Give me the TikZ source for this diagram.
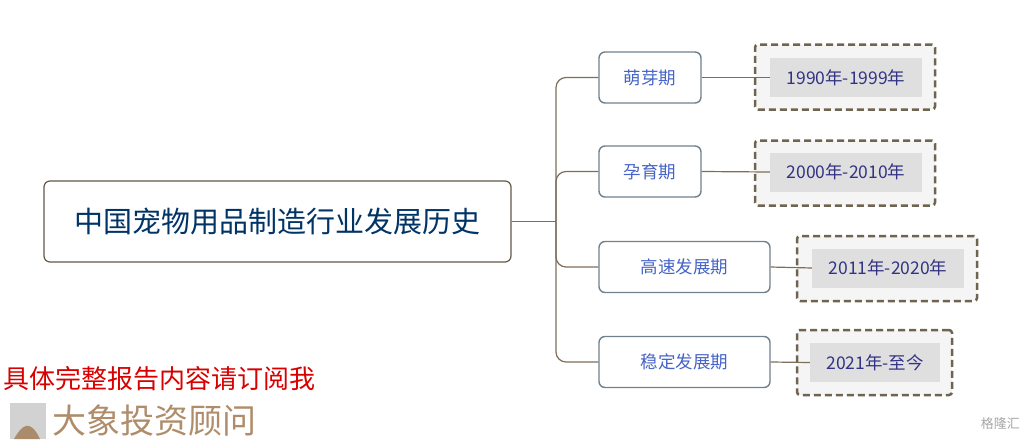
\documentclass[tikz,border=0pt]{standalone}
\usepackage{fontspec}
\setmainfont{Noto Sans CJK SC}
\definecolor{pb}{RGB}{112,128,140}
\definecolor{pt}{RGB}{70,100,200}
\definecolor{ln}{RGB}{125,110,90}
\definecolor{db}{RGB}{110,100,80}
\begin{document}
\begin{tikzpicture}[x=1pt,y=-1pt,
  line/.style={draw=ln,line width=1.2pt},
  period/.style={draw=pb,line width=1.4pt,rounded corners=6pt,fill=white,text=pt,font=\fontsize{17.5}{17.5}\selectfont,minimum height=51pt,inner sep=0pt},
  datebox/.style={draw=db,line width=2.5pt,dash pattern=on 7pt off 4pt,rounded corners=3pt,fill=gray!8,minimum height=65pt,inner sep=0pt},
  datein/.style={fill=gray!25,text=blue!40!black!80,font=\fontsize{17.5}{17.5}\selectfont,minimum height=39pt,inner sep=0pt}]
\useasboundingbox (0,0) rectangle (1024,439);
\node[draw=ln!80!black,line width=1.2pt,rounded corners=6pt,minimum width=467pt,minimum height=81pt,text=blue!50!cyan!40!black,font=\fontsize{29}{29}\selectfont] (main) at (277.5,221.5) {中国宠物用品制造行业发展历史};
\node[period,minimum width=102pt] (p1) at (650,77.5) {萌芽期};
\node[period,minimum width=102pt] (p2) at (650,171.5) {孕育期};
\node[period,minimum width=171pt] (p3) at (684.5,267) {高速发展期};
\node[period,minimum width=171pt] (p4) at (684.5,362) {稳定发展期};
\node[datebox,minimum width=180pt] (d1) at (845,77) {};
\node[datein,minimum width=152pt] (t1) at (846,77.5) {1990年-1999年};
\node[datebox,minimum width=180pt] (d2) at (845,173) {};
\node[datein,minimum width=152pt] (t2) at (846,172) {2000年-2010年};
\node[datebox,minimum width=180pt] (d3) at (887,268.5) {};
\node[datein,minimum width=152pt] (t3) at (888,268) {2011年-2020年};
\node[datebox,minimum width=155pt] (d4) at (874.5,362.5) {};
\node[datein,minimum width=130pt] (t4) at (875,362.5) {2021年-至今};
\coordinate (j) at (556,221.5);
\draw[line] (main.east) -- (j);
\foreach \p in {p1,p2,p3,p4}{
  \draw[line,rounded corners=10pt] (j) |- (\p.west);}
\draw[line] (p1.east) -- (t1.west);
\draw[line] (p2.east) -- (t2.west);
\draw[line] (p3.east) -- (t3.west);
\draw[line] (p4.east) -- (t4.west);
\node[anchor=west,text=red!85!black,font=\fontsize{26}{26}\selectfont,inner sep=0pt] (red) at (3,379) {具体完整报告内容请订阅我};
\node[fill=gray!35,minimum width=36pt,minimum height=36pt,inner sep=0pt] (logo) at (28,421) {};
\fill[brown!70!black!70] (14,439) .. controls (22,425) and (30,418) .. (40,439) -- cycle;
\node[anchor=west,text=brown!60!gray!90,font=\fontsize{34}{34}\selectfont,inner sep=0pt] (brand) at (52,421) {大象投资顾问};
\node[anchor=east,text=gray!70,font=\fontsize{13}{13}\selectfont,inner sep=0pt] (wm) at (1020,424) {格隆汇};
\end{tikzpicture}
\end{document}
